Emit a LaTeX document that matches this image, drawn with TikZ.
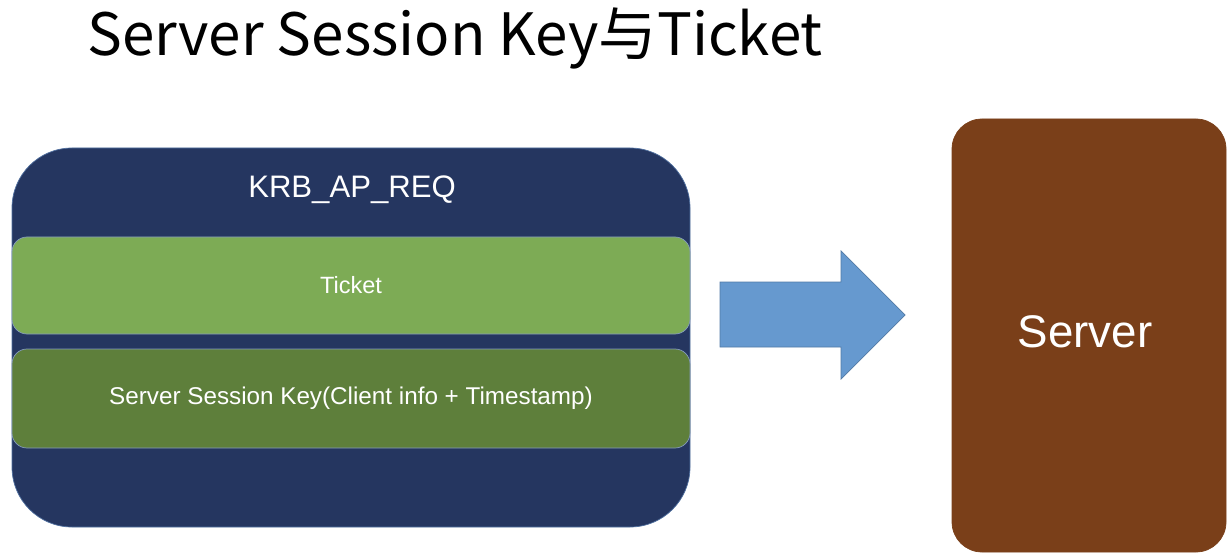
\documentclass[tikz,border=0pt]{standalone}
\usepackage{fontspec}
\setmainfont{Liberation Sans}
\newfontfamily\cjk{Noto Sans CJK SC}
\definecolor{bleunuit}{HTML}{253660}
\definecolor{bordbleu}{HTML}{4F6F9F}
\definecolor{vertclair}{HTML}{7DAB55}
\definecolor{vertfonce}{HTML}{5E7F3B}
\definecolor{bleufleche}{HTML}{6699CF}
\definecolor{brun}{HTML}{7A3F19}

\newcommand\bandeau[5] {
  \draw[fill=#1, draw=bordbleu!70, rounded corners=.3cm] (12, #2) rectangle (690, #3) ;
  \node[text=white, font=\fontsize{13.8}{16}\selectfont] (#4) at (351, {(#2+#3)/2}) {#5} ;
}

\begin{document}
\begin{tikzpicture}[x=.02cm, y=-.02cm]
  \useasboundingbox (0, 0) rectangle (1229, 560) ;
  \node[font=\cjk\fontsize{33.2}{40}\selectfont] (titre) at (455, 38) {Server Session Key与Ticket} ;
  % message
  \draw[fill=bleunuit, draw=bordbleu, rounded corners=1.2cm] (12, 148) rectangle (690, 527) ;
  \node[text=white, font=\fontsize{17.7}{21}\selectfont] (krb) at (352, 190) {KRB\_AP\_REQ} ;
  \bandeau{vertclair}{237}{334}{ticket}{\fontsize{13.4}{16}\selectfont Ticket}
  \bandeau{vertfonce}{349}{448}{cle}{Server Session Key(Client info + Timestamp)}
  % fleche
  \draw[fill=bleufleche, draw=bleufleche!80!black, line join=miter]
     (720, 282) -- (841, 282) -- (841, 251) -- (905, 315)
     -- (841, 379) -- (841, 347) -- (720, 347) -- cycle ;
  % serveur
  \draw[fill=brun, draw=brun, rounded corners=.6cm] (952, 119) rectangle (1226, 552) ;
  \node[text=white, font=\fontsize{26}{31}\selectfont] (serveur) at (1085, 332) {Server} ;
\end{tikzpicture}
\end{document}
